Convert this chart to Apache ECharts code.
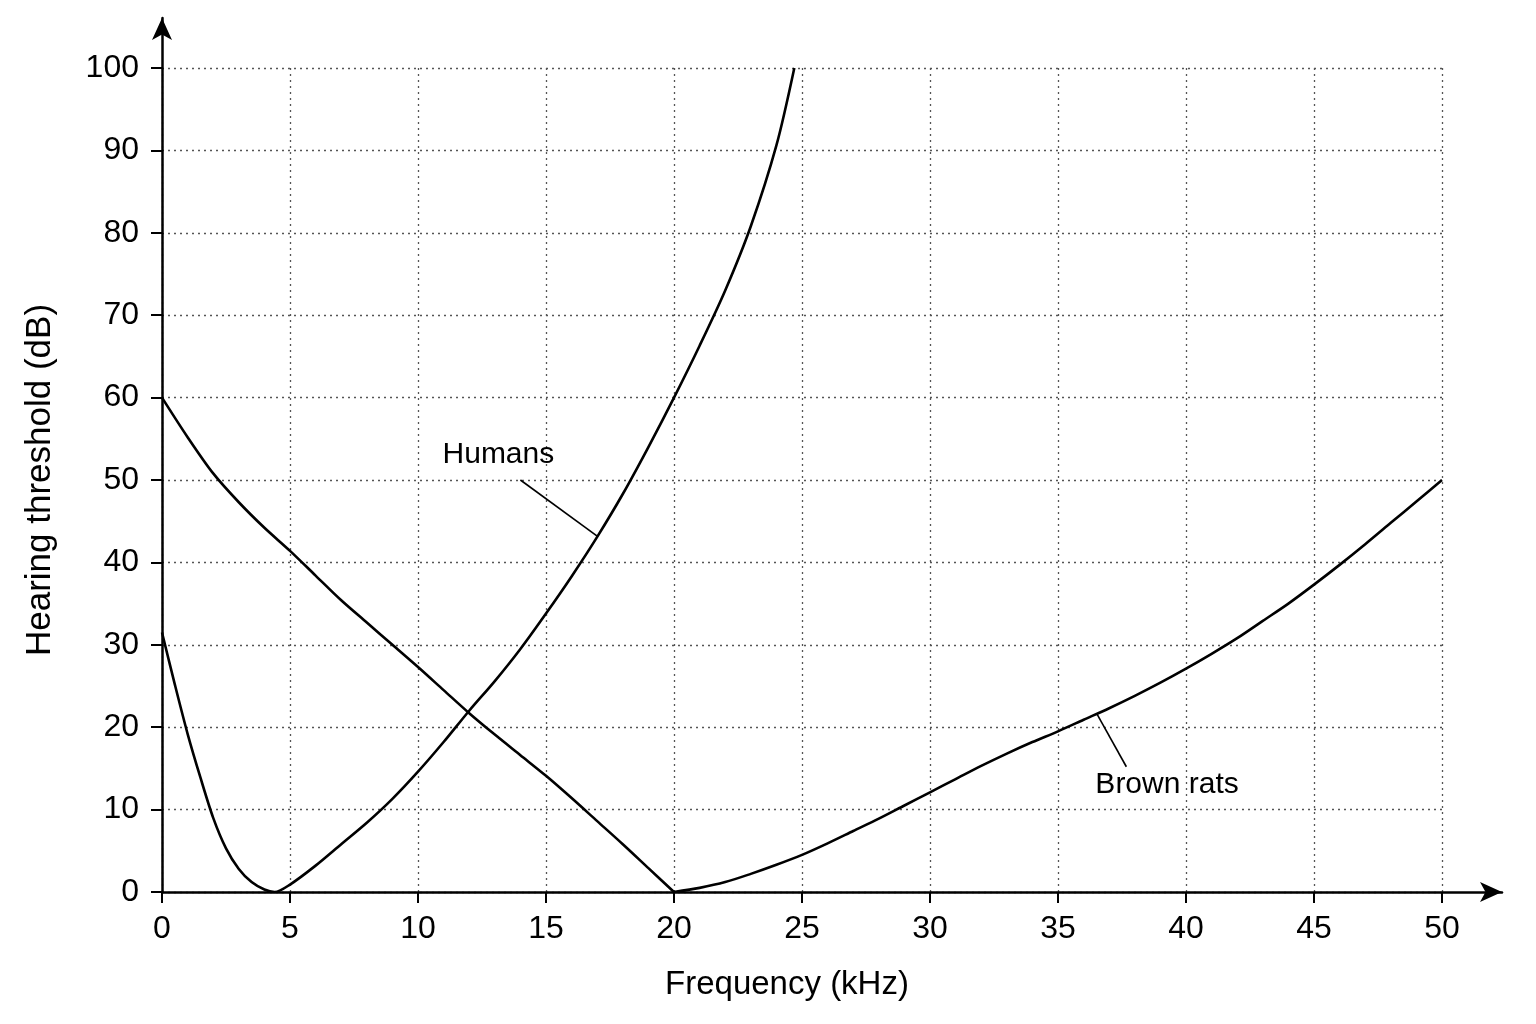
<html>
<head>
<meta charset="utf-8">
<script src="https://cdn.jsdelivr.net/npm/echarts@6/dist/echarts.min.js"></script>
<style>
  html, body { margin: 0; padding: 0; background: #fff; }
  #main { width: 1536px; height: 1024px; }
</style>
</head>
<body>
<div id="main"></div>
<script type="text/javascript">
// values: [frequency kHz, threshold dB]
var humans = [
  [0, 31.5], [0.5, 25.2], [1, 19.2], [1.5, 13.9], [2, 9.0], [2.5, 5.3],
  [3, 2.8], [3.5, 1.2], [4, 0.3], [4.4, 0], [5, 0.9], [6, 3.2], [7, 5.8],
  [8, 8.4], [9, 11.3], [10, 14.6], [11, 18.2], [12, 22.0], [13, 25.6],
  [14, 29.5], [15, 33.8], [16, 38.3], [17, 43.1], [18, 48.3], [19, 54.0],
  [20, 60.0], [21, 66.3], [22, 73.0], [23, 80.8], [24, 90.6], [24.7, 100]
];
var ratsLow = [
  [0, 60], [1, 55.2], [2, 50.8], [3, 47.3], [4, 44.2], [5, 41.4], [6, 38.4],
  [7, 35.4], [8, 32.7], [9, 30.0], [10, 27.3], [11, 24.5], [12, 21.7],
  [13, 19.1], [14, 16.6], [15, 14.1], [16, 11.4], [17, 8.6], [18, 5.8],
  [19, 2.9], [20, 0]
];
var ratsHigh = [
  [20, 0], [21, 0.5], [22, 1.2], [23, 2.2], [24, 3.3], [25, 4.5], [26, 5.9],
  [27, 7.4], [28, 8.9], [29, 10.5], [30, 12.1], [31, 13.7], [32, 15.3],
  [33, 16.8], [34, 18.2], [35, 19.5], [36, 20.9], [37, 22.3], [38, 23.8],
  [39, 25.4], [40, 27.1], [41, 28.9], [42, 30.8], [43, 32.9], [44, 35.0],
  [45, 37.3], [46, 39.7], [47, 42.2], [48, 44.8], [49, 47.4], [50, 50]
];
// callouts: [x, y, text]
var callouts = [[13.14, 53.1, 'Humans'], [39.26, 13.0, 'Brown rats']];
var leaders = [
  [[14.0, 50.0], [17.0, 43.2]],
  [[36.53, 21.55], [37.67, 15.2]]
];
var xName = 'Frequency (kHz)';
var yName = 'Hearing threshold (dB)';

var FONT = '"Liberation Sans", Arial, Helvetica, sans-serif';
var myChart = echarts.init(document.getElementById('main'));

var curveStyle = { color: '#000', width: 2.6 };
var gridLine = { show: true, lineStyle: { color: '#555', width: 1.3, type: [2, 4] } };

var series = [
  { name: 'Humans', type: 'line', data: humans, smooth: 0.3, showSymbol: false, lineStyle: curveStyle },
  { name: 'Brown rats', type: 'line', data: ratsLow, smooth: 0.3, showSymbol: false, lineStyle: curveStyle },
  { name: 'Brown rats', type: 'line', data: ratsHigh, smooth: 0.3, showSymbol: false, lineStyle: curveStyle }
];
leaders.forEach(function (seg) {
  series.push({ type: 'line', data: seg, showSymbol: false, lineStyle: { color: '#000', width: 1.6 } });
});
series.push({
  type: 'scatter',
  symbolSize: 0,
  itemStyle: { opacity: 1 },
  data: callouts.map(function (c) { return { value: [c[0], c[1]], name: c[2] }; }),
  label: {
    show: true, position: 'inside', formatter: '{b}',
    color: '#000', textBorderWidth: 0, fontSize: 30, fontFamily: FONT
  }
});

var option = {
  backgroundColor: '#fff',
  animation: false,
  grid: [
    { left: 162, right: 94, top: 68, bottom: 132 },
    { left: 162, right: 34, top: 18, bottom: 132 }
  ],
  xAxis: [
    {
      type: 'value', gridIndex: 0, min: 0, max: 50, interval: 5,
      name: xName, nameLocation: 'middle', nameGap: 76,
      nameTextStyle: { color: '#000', fontSize: 33, fontFamily: FONT, padding: [0, 30, 0, 0] },
      axisLine: { show: false },
      axisTick: { show: true, length: 11, lineStyle: { color: '#000', width: 2 } },
      axisLabel: { color: '#000', fontSize: 32, fontFamily: FONT, margin: 21 },
      splitLine: gridLine
    },
    {
      type: 'value', gridIndex: 1, min: 0, max: 1,
      axisLine: { show: true, symbol: ['none', 'arrow'], symbolSize: [15, 22], lineStyle: { color: '#000', width: 2.5 } },
      axisTick: { show: false }, axisLabel: { show: false }, splitLine: { show: false }
    }
  ],
  yAxis: [
    {
      type: 'value', gridIndex: 0, min: 0, max: 100, interval: 10,
      name: yName, nameLocation: 'middle', nameGap: 104,
      nameTextStyle: { color: '#000', fontSize: 35, fontFamily: FONT },
      axisLine: { show: false },
      axisTick: { show: true, length: 11, lineStyle: { color: '#000', width: 2 } },
      axisLabel: { color: '#000', fontSize: 32, fontFamily: FONT, margin: 23 },
      splitLine: gridLine
    },
    {
      type: 'value', gridIndex: 1, min: 0, max: 1,
      axisLine: { show: true, symbol: ['none', 'arrow'], symbolSize: [15, 22], lineStyle: { color: '#000', width: 2.5 } },
      axisTick: { show: false }, axisLabel: { show: false }, splitLine: { show: false }
    }
  ],
  series: series
};

myChart.setOption(option);
</script>
</body>
</html>
